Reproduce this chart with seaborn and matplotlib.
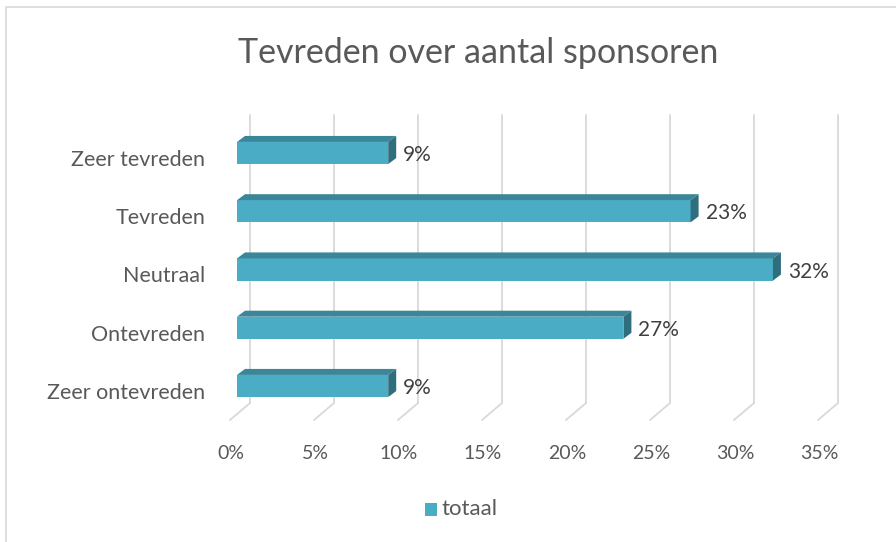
import matplotlib.pyplot as plt
import pandas as pd
import seaborn as sns
from matplotlib.patches import Polygon, Rectangle
from matplotlib.transforms import ScaledTranslation

# Data
categories = ['Zeer tevreden', 'Tevreden', 'Neutraal', 'Ontevreden', 'Zeer ontevreden']
values = [9.0, 27.0, 31.9, 23.0, 9.0]
value_labels = ['9%', '23%', '32%', '27%', '9%']
xticks = [0, 5, 10, 15, 20, 25, 30, 35]
series_name = 'totaal'
title = 'Tevreden over aantal sponsoren'

df = pd.DataFrame({'categorie': categories, 'waarde': values})

front = '#4BACC6'
top = '#3B8799'
side = '#2F6E7D'
grid = '#D9D9D9'
txt = '#595959'

sns.set_theme(style='white')
plt.rcParams['font.family'] = ['Lato', 'DejaVu Sans']

W, H = 896, 542
dpi = 100
fig = plt.figure(figsize=(W / dpi, H / dpi), dpi=dpi)

# axes in the plane of the bar front faces (pixels from figure)
x0, x1 = 237, 237 + 84 * 7
y_top, y_bot = 115, 403
ax = fig.add_axes([x0 / W, 1 - y_bot / H, (x1 - x0) / W, (y_bot - y_top) / H])

sns.barplot(data=df, x='waarde', y='categorie', orient='h', color=front,
            width=0.38, saturation=1, ax=ax, zorder=3, edgecolor='none')

ax.set_xlim(0, 35)
ax.set_ylim(4 + 17 / 58.25, -38 / 58.25)
for s in ax.spines.values():
    s.set_visible(False)
ax.set_xlabel('')
ax.set_ylabel('')


def px(dx, dy):
    return ScaledTranslation(dx / dpi, dy / dpi, fig.dpi_scale_trans)


# back wall gridlines and floor lines
for v in xticks:
    ax.plot([v, v], [0, 1], color=grid, lw=1.3, zorder=1, clip_on=False,
            transform=ax.get_xaxis_transform() + px(13, 0))
    p0 = ax.get_xaxis_transform().transform((v, 0))
    fig.add_artist(plt.Line2D([(p0[0] + 13) / W, (p0[0] - 7) / W],
                              [p0[1] / H, (p0[1] - 17) / H],
                              color=grid, lw=1.3, transform=fig.transFigure))

# 3D faces of the bars
ppx = ax.transData.transform((1, 0))[0] - ax.transData.transform((0, 0))[0]
ppy = ax.transData.transform((0, 0))[1] - ax.transData.transform((0, 1))[1]
ddx, ddy = 8 / ppx, 6 / ppy
for bar in ax.patches:
    bx, by = bar.get_x(), bar.get_y()
    bw, bh = bar.get_width(), bar.get_height()
    ax.add_patch(Polygon([(bx, by), (bx + bw, by), (bx + bw + ddx, by - ddy), (bx + ddx, by - ddy)],
                         closed=True, facecolor=top, edgecolor='none', zorder=3))
    ax.add_patch(Polygon([(bx + bw, by), (bx + bw + ddx, by - ddy), (bx + bw + ddx, by + bh - ddy),
                          (bx + bw, by + bh)],
                         closed=True, facecolor=side, edgecolor='none', zorder=3))

# data labels
for i, (v, lab) in enumerate(zip(values, value_labels)):
    ax.text(v, i, lab, color='#404040', fontsize=15, va='center', ha='left',
            transform=ax.transData + px(15, -2), zorder=4)

# ticks
ax.set_yticks(range(len(categories)))
ax.set_yticklabels(categories)
ax.tick_params(axis='y', length=0, pad=23, labelsize=15.5, labelcolor=txt)
for lab in ax.get_yticklabels():
    lab.set_transform(lab.get_transform() + px(0, -5))
ax.set_xticks(xticks)
ax.set_xticklabels([f'{t}%' for t in xticks])
ax.tick_params(axis='x', length=0, pad=30, labelsize=14, labelcolor=txt)
for lab in ax.get_xticklabels():
    lab.set_transform(lab.get_transform() + px(-6, 0))

fig.text(478 / W, 1 - 53 / H, title, ha='center', va='center', fontsize=24.5, color=txt)

# legend
fig.patches.append(Rectangle((425 / W, 1 - 516 / H), 12 / W, 13 / H, facecolor=front,
                             edgecolor='none', transform=fig.transFigure))
fig.text(441 / W, 1 - 509 / H, series_name, ha='left', va='center', fontsize=16, color=txt)

# chart border
fig.patches.append(Rectangle((6 / W, -0.1), 1.2, 1.1 - 7 / H, facecolor='none',
                             edgecolor='#D9D9D9', lw=1.2, transform=fig.transFigure))

fig.savefig('out.png', dpi=dpi)
